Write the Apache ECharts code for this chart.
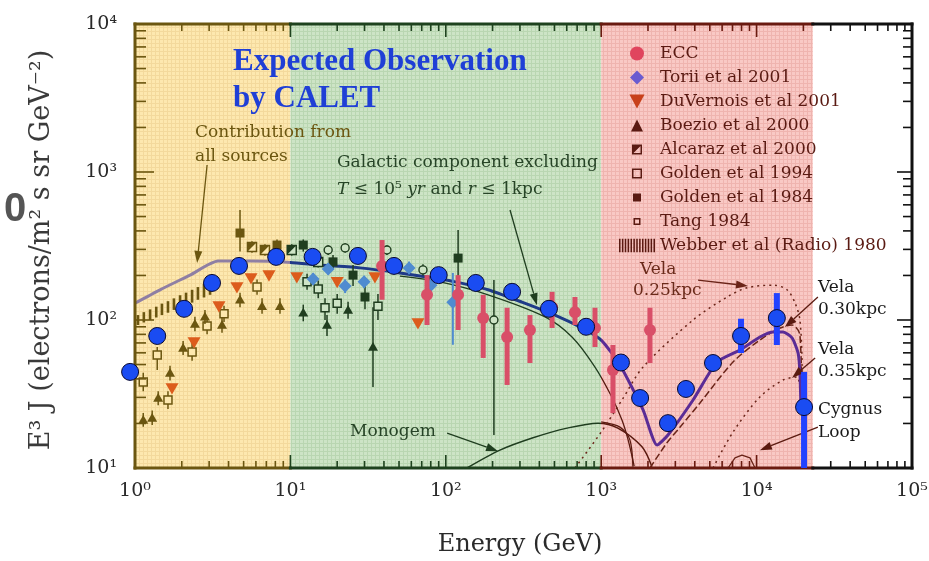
<!DOCTYPE html>
<html>
<head>
<meta charset="utf-8">
<title>Electron spectrum – expected observation by CALET</title>
<script src="https://cdn.jsdelivr.net/npm/echarts@6.0.0/dist/echarts.min.js"></script>
<style>
  html, body { margin: 0; padding: 0; background: #ffffff; }
  #chart { width: 929px; height: 561px; }
</style>
</head>
<body>
<div id="chart"></div>
<script>
// ---------- data: energy in GeV, flux as E^3 J (electrons m^-2 s^-1 sr^-1 GeV^2) ----------
const xTickExponents = ['⁰', '¹', '²', '³', '⁴', '⁵'];

// Expected CALET observation
const caletEnergy = [0.93, 1.39, 2.07, 3.13, 4.67, 8.1, 13.9, 27.2, 46.4, 90, 156, 267, 461, 800, 1340, 1780, 2690, 3510, 5240, 7940, 13500, 20200];
const caletFlux   = [44.6, 78, 119, 178, 232, 267, 267, 271, 232, 201, 178, 155, 119, 90, 51.6, 29.7, 20.1, 34.2, 51.2, 78, 103, 25.8];
const caletBarEnergy = [7940, 13500, 20200];
const caletBarLow    = [59.8, 67.8, 10];
const caletBarHigh   = [102, 152, 44.6];

// ECC
const eccEnergy = [38.9, 75.7, 120, 174, 248, 348, 483, 678, 912, 1190, 2060];
const eccFlux   = [232, 148, 148, 103, 76.8, 85.6, 122, 113, 88.3, 45.9, 85.6];
const eccLow    = [137, 92.5, 85.6, 55.4, 36.4, 51.2, 88.3, 92.5, 65.7, 23.5, 51.2];
const eccHigh   = [347, 201, 201, 148, 121, 108, 155, 143, 121, 67.8, 121];

// Torii et al 2001
const toriiEnergy = [14.0, 17.5, 22.5, 29.8, 58.0, 80.3, 111];
const toriiFlux   = [189, 221, 170, 181, 225, 172, 132];
const toriiLow    = [172, 202, 152, 164, 204, 154, 68];
const toriiHigh   = [208, 242, 188, 199, 248, 192, 208];

// DuVernois et al 2001
const duvernoisEnergy = [1.73, 2.40, 3.47, 4.53, 5.58, 7.28, 11.0, 20.0, 35.0, 66.2];
const duvernoisFlux   = [34.7, 71.0, 124, 167, 192, 201, 195, 181, 195, 95.4];

// Boezio et al 2000
const boezioEnergy = [1.13, 1.29, 1.41, 1.68, 2.04, 2.43, 2.82, 3.63, 4.74, 6.57, 8.57, 12.1, 17.2, 23.5, 34.0];
const boezioFlux   = [21.1, 21.8, 29.7, 43.8, 64.7, 94.0, 105, 92.5, 137, 124, 124, 112, 92.5, 117, 65.7];
const boezioLow    = [19, 19.5, 26.5, 39, 58, 84, 94, 82, 122, 110, 110, 98, 78, 102, 35.2];
const boezioHigh   = [23.5, 24.5, 33, 49, 72, 105, 117, 104, 153, 140, 140, 127, 108, 133, 122];

// Alcaraz et al 2000
const alcarazEnergy = [5.66, 6.86, 10.2, 15.1];
const alcarazFlux   = [311, 297, 297, 247];
const alcarazLow    = [285, 272, 272, 226];
const alcarazHigh   = [340, 325, 325, 270];

// Golden et al 1994
const golden94Energy = [1.13, 1.39, 1.63, 2.33, 2.91, 3.74, 6.10, 12.8, 15.1, 16.7, 20.0, 36.6];
const golden94Flux   = [38.1, 58.0, 28.8, 60.8, 91.1, 110, 167, 181, 162, 121, 130, 124];
const golden94Low    = [33, 45.9, 25, 53, 80, 97, 148, 160, 140, 100, 110, 100];
const golden94High   = [44, 65.7, 33, 70, 104, 125, 188, 205, 185, 140, 150, 150];

// Golden et al 1984
const golden84Energy = [4.74, 8.2, 12.1, 18.8, 25.3, 30.2, 120];
const golden84Flux   = [387, 321, 321, 247, 201, 143, 262];
const golden84Low    = [290, 290, 290, 220, 170, 118, 105];
const golden84High   = [553, 350, 350, 275, 235, 170, 406];

// Tang 1984
const tangEnergy = [17.5, 22.5, 41.8, 71.3, 204];
const tangFlux   = [297, 307, 297, 218, 100];
const tangLow    = [275, 285, 275, 200, 16.7];
const tangHigh   = [320, 330, 320, 238, 186];

// Webber et al (Radio) 1980
const webberEnergy = [1.045, 1.14, 1.25, 1.37, 1.49, 1.63, 1.78, 1.95, 2.13, 2.33, 2.54, 2.78, 3.04];
const webberLow    = [92.5, 96.2, 100, 104, 108, 112, 117, 122, 126, 131, 137, 142, 148];
const webberHigh   = [108, 113, 118, 123, 129, 134, 140, 147, 153, 160, 167, 175, 182];

// Model curves
const totalEnergy = [1, 1.45, 2.26, 3.42, 5.5, 10, 15.5, 28.0, 50.7, 91.8, 115, 187, 309, 504, 752, 1000, 1320, 1860, 2290, 2690, 3900, 5560, 7820, 10500, 12800, 14800, 16900, 18500, 19000, 19300];
const totalFlux   = [130, 160, 201, 250, 250, 245, 235, 225, 208, 189, 181, 160, 132, 108, 88.3, 73.2, 49.6, 24.7, 14.3, 16.7, 28.8, 52.0, 62.7, 76.8, 83.0, 83.0, 75.6, 59.8, 43.8, 25.0];
const galacticEnergy = [50.7, 91.8, 187, 435, 649, 912, 1170, 1360, 1490, 1630];
const galacticFlux   = [198, 181, 148, 105, 76.8, 48.1, 30.2, 21.1, 15.5, 10.3];
const monogemEnergy = [137, 223, 364, 603, 954, 1280, 1830, 2120];
const monogemFlux   = [10, 13.2, 16.0, 18.6, 20.1, 18.6, 13.9, 10.2];
const nearbyEnergy = [1000, 1320, 1530, 1600];
const nearbyFlux   = [20.5, 18.9, 15.5, 10.2];
const vela25Energy = [678, 1000, 1360, 1860, 3900, 6450, 8680, 12800, 15700, 17700, 19000, 19600, 19600];
const vela25Flux   = [10, 17.5, 28.8, 48.1, 100, 143, 165, 172, 160, 130, 100, 48.1, 21.1];
const vela30Energy = [2060, 2650, 3220, 4320, 7050, 10500, 14200, 16900, 19000, 19600];
const vela30Flux   = [10, 14.8, 18.9, 27.5, 52.0, 73.2, 88.3, 92.5, 79.2, 21.1];
const vela35Energy = [5240, 7050, 10500, 14800, 18200, 19000];
const vela35Flux   = [10, 17.5, 30.2, 39.3, 41.2, 33.7];
const cygnusEnergy = [6550, 7260, 8050, 9070, 9770];
const cygnusFlux   = [10, 11.7, 12.2, 11.7, 10];

// Annotation arrows: tail and head, each [energy, flux]
const arrowTails = [[2.91, 1115], [259, 554], [102, 17.2], [4200, 186], [24800, 143], [23800, 55.4], [24800, 18.9]];
const arrowHeads = [[2.51, 243], [386, 126], [217, 13.0], [8800, 170], [15200, 89.7], [16900, 40.6], [10500, 13.2]];

// Energy bands: yellow / green / red / white
const bandEdges = [1, 10, 1000, 23000, 100000];

// ---------- styling ----------
const SERIF = '"DejaVu Serif", "Liberation Serif", serif';
const paper = ['#fde8af', '#cde4c6', '#f9c9c5', '#ffffff'];
const paperGrid = ['#f3d99c', '#b9d6b1', '#efb4af', '#ffffff'];
const ink = ['#6b5610', '#1f3d1f', '#6a1c14', '#1a1a1a'];
const frameInk = ['#6b5610', '#1e421e', '#6a1a10', '#111111'];
const arrowInk = ['#6b5610', '#1f3d1f', '#1f3d1f', '#6a2418', '#5a1a10', '#5a1a10', '#5a1a10'];
const X_MIN = 1, X_MAX = 100000, Y_MIN = 10, Y_MAX = 10000;

function region(e) {
  let i = 0;
  while (i < 3 && e >= bandEdges[i + 1]) i++;
  return i;
}

function gridFill(i) {
  const c = document.createElement('canvas');
  c.width = 4; c.height = 4;
  const g = c.getContext('2d');
  g.fillStyle = paper[i]; g.fillRect(0, 0, 4, 4);
  g.fillStyle = paperGrid[i]; g.fillRect(0, 3, 4, 1); g.fillRect(3, 0, 1, 4);
  return { image: c, repeat: 'repeat' };
}
const bandPatterns = [0, 1, 2].map(gridFill);

function marker(kind, cx, cy, s, color, inside) {
  const h = s / 2;
  switch (kind) {
    case 'circle':
      return { type: 'circle', shape: { cx, cy, r: h }, style: { fill: color } };
    case 'diamond':
      return { type: 'polygon', shape: { points: [[cx, cy - h], [cx + h, cy], [cx, cy + h], [cx - h, cy]] }, style: { fill: color } };
    case 'triDown':
      return { type: 'polygon', shape: { points: [[cx - h, cy - h * 0.75], [cx + h, cy - h * 0.75], [cx, cy + h]] }, style: { fill: color } };
    case 'triUp':
      return { type: 'polygon', shape: { points: [[cx, cy - h], [cx + h, cy + h * 0.75], [cx - h, cy + h * 0.75]] }, style: { fill: color } };
    case 'square':
      return { type: 'rect', shape: { x: cx - h, y: cy - h, width: s, height: s }, style: { fill: color } };
    case 'openSquare':
      return { type: 'rect', shape: { x: cx - h, y: cy - h, width: s, height: s }, style: { fill: inside, stroke: color, lineWidth: 1.5 } };
    case 'halfSquare':
      return { type: 'group', children: [
        { type: 'rect', shape: { x: cx - h, y: cy - h, width: s, height: s }, style: { fill: inside, stroke: color, lineWidth: 1.5 } },
        { type: 'polygon', shape: { points: [[cx - h, cy - h], [cx + h, cy - h], [cx - h, cy + h]] }, style: { fill: color } }
      ] };
    default:
      return { type: 'circle', shape: { cx, cy, r: h }, style: { fill: inside, stroke: color, lineWidth: 1.4 } };
  }
}

// One measurement set: error bar plus marker per point
function pointSeries(cfg) {
  const data = cfg.E.map((e, i) => [e, cfg.F[i], cfg.lo ? cfg.lo[i] : cfg.F[i], cfg.hi ? cfg.hi[i] : cfg.F[i]]);
  return {
    type: 'custom', name: cfg.name, data, z: cfg.z || 5, silent: true,
    encode: { x: 0, y: 1 },
    itemStyle: { color: cfg.legendColor || ink[2] },
    renderItem(params, api) {
      const e = api.value(0), f = api.value(1), lo = api.value(2), hi = api.value(3);
      const r = region(e);
      const color = cfg.color || ink[r];
      const p = api.coord([e, f]);
      const children = [];
      if (lo !== hi) {
        const a = api.coord([e, lo]), b = api.coord([e, hi]);
        children.push({ type: 'line', shape: { x1: a[0], y1: a[1], x2: b[0], y2: b[1] }, style: { stroke: cfg.barColor || color, lineWidth: cfg.barWidth || 1.5 } });
      }
      children.push(marker(cfg.kind, p[0], p[1], cfg.size, color, paper[r]));
      return { type: 'group', children };
    }
  };
}

function curve(name, E, F, lineStyle, extra) {
  return Object.assign({
    type: 'line', name, data: E.map((e, i) => [e, F[i]]),
    showSymbol: false, symbol: 'none', smooth: 0.3, z: 3, silent: true,
    lineStyle
  }, extra || {});
}

// Legend icons (drawn with kept aspect inside the legend icon box)
const ICON = {
  circle: 'path://M0,7A7,7,0,1,0,14,7A7,7,0,1,0,0,7Z',
  diamond: 'path://M7,0L14,7L7,14L0,7Z',
  triDown: 'path://M0,1L14,1L7,14Z',
  triUp: 'path://M0,0 M14,14 M7,1L13,13L1,13Z',
  halfSquare: 'path://M0,0 M14,14 M2,2h10v10h-10z M3.5,3.5v7h7v-7z M2,2L12,2L2,12Z',
  openSquare: 'path://M0,0 M14,14 M2,2h10v10h-10z M3.5,3.5v7h7v-7z',
  square: 'path://M0,0 M14,14 M3,3h8v8h-8z',
  openSmall: 'path://M0,0 M14,14 M3.5,3.5h7v7h-7z M5,5v4h4v-4z',
  hatch: 'path://' + webberEnergy.map((_, i) => 'M' + (i * 3) + ',0h1.6v14h-1.6z').join(' ')
};

// Frame segments coloured by band: [e0, f0, e1, f1, band]
const frameSegments = [];
for (let i = 0; i < 4; i++) {
  frameSegments.push([bandEdges[i], Y_MIN, bandEdges[i + 1], Y_MIN, i]);
  frameSegments.push([bandEdges[i], Y_MAX, bandEdges[i + 1], Y_MAX, i]);
}
frameSegments.push([X_MIN, Y_MIN, X_MIN, Y_MAX, 0]);
frameSegments.push([X_MAX, Y_MIN, X_MAX, Y_MAX, 3]);

// Tick positions at 1..9 x 10^k (flag 2 = decade)
const xTicks = [], yTicks = [];
for (let d = 0; d < 5; d++) for (let m = 1; m < 10; m++) if (d + m > 1) xTicks.push([m * Math.pow(10, d), m === 1 ? 2 : 1]);
for (let d = 1; d < 4; d++) for (let m = 1; m < 10; m++) if (d + m > 2) yTicks.push([m * Math.pow(10, d), m === 1 ? 2 : 1]);

const seriesList = [
  // coloured energy bands
  {
    type: 'custom', name: 'bands', z: 1, silent: true,
    data: [[bandEdges[0], bandEdges[1], 0], [bandEdges[1], bandEdges[2], 1], [bandEdges[2], bandEdges[3], 2]],
    encode: { x: [0, 1] },
    renderItem(params, api) {
      const a = api.coord([api.value(0), Y_MAX]), b = api.coord([api.value(1), Y_MIN]);
      return { type: 'rect', shape: { x: a[0], y: a[1], width: b[0] - a[0], height: b[1] - a[1] }, style: { fill: bandPatterns[api.value(2)] } };
    }
  },
  curve('All sources', totalEnergy, totalFlux, { width: 3 }, { z: 4, smooth: 0.2 }),
  curve('Galactic', galacticEnergy, galacticFlux, { width: 1.3 }),
  curve('Monogem', monogemEnergy, monogemFlux, { width: 1.5 }),
  curve('Nearby', nearbyEnergy, nearbyFlux, { width: 1.3 }),
  curve('Vela 0.25kpc', vela25Energy, vela25Flux, { width: 1.5, color: '#6a2418', type: [2, 4] }),
  curve('Vela 0.30kpc', vela30Energy, vela30Flux, { width: 1.5, color: '#6a2418', type: [7, 3] }),
  curve('Vela 0.35kpc', vela35Energy, vela35Flux, { width: 1.5, color: '#6a2418', type: [2, 4] }),
  curve('Cygnus Loop', cygnusEnergy, cygnusFlux, { width: 1.3, color: '#6a2418' }, { smooth: false }),
  // annotation arrows
  {
    type: 'custom', name: 'arrows', z: 6, silent: true,
    data: arrowTails.map((t, i) => [t[0], t[1], arrowHeads[i][0], arrowHeads[i][1], i]),
    encode: { x: [0, 2], y: [1, 3] },
    renderItem(params, api) {
      const a = api.coord([api.value(0), api.value(1)]), b = api.coord([api.value(2), api.value(3)]);
      const c = arrowInk[api.value(4)];
      const ang = Math.atan2(b[1] - a[1], b[0] - a[0]);
      const L = 12, W = 4;
      const bx = b[0] - L * Math.cos(ang), by = b[1] - L * Math.sin(ang);
      return { type: 'group', children: [
        { type: 'line', shape: { x1: a[0], y1: a[1], x2: bx, y2: by }, style: { stroke: c, lineWidth: 1.3 } },
        { type: 'polygon', shape: { points: [b, [bx - W * Math.sin(ang), by + W * Math.cos(ang)], [bx + W * Math.sin(ang), by - W * Math.cos(ang)]] }, style: { fill: c } }
      ] };
    }
  },
  // Webber radio band (hatched)
  {
    type: 'custom', name: 'Webber et al (Radio) 1980', z: 5, silent: true,
    itemStyle: { color: '#5a1a12' },
    data: webberEnergy.map((e, i) => [e, webberLow[i], webberHigh[i]]),
    encode: { x: 0, y: [1, 2] },
    renderItem(params, api) {
      const a = api.coord([api.value(0), api.value(1)]), b = api.coord([api.value(0), api.value(2)]);
      return { type: 'line', shape: { x1: a[0], y1: a[1], x2: b[0], y2: b[1] }, style: { stroke: ink[0], lineWidth: 2.6 } };
    }
  },
  pointSeries({ name: 'Golden et al 1994', E: golden94Energy, F: golden94Flux, lo: golden94Low, hi: golden94High, kind: 'openSquare', size: 8 }),
  pointSeries({ name: 'Golden et al 1984', E: golden84Energy, F: golden84Flux, lo: golden84Low, hi: golden84High, kind: 'square', size: 9 }),
  pointSeries({ name: 'Alcaraz et al 2000', E: alcarazEnergy, F: alcarazFlux, lo: alcarazLow, hi: alcarazHigh, kind: 'halfSquare', size: 9 }),
  pointSeries({ name: 'Tang 1984', E: tangEnergy, F: tangFlux, lo: tangLow, hi: tangHigh, kind: 'openCircle', size: 8 }),
  pointSeries({ name: 'Boezio et al 2000', E: boezioEnergy, F: boezioFlux, lo: boezioLow, hi: boezioHigh, kind: 'triUp', size: 10 }),
  pointSeries({ name: 'DuVernois et al 2001', E: duvernoisEnergy, F: duvernoisFlux, kind: 'triDown', size: 13, color: '#dc5c1c', legendColor: '#c8401a' }),
  pointSeries({ name: 'Torii et al 2001', E: toriiEnergy, F: toriiFlux, lo: toriiLow, hi: toriiHigh, kind: 'diamond', size: 13, color: '#4f8bd0', barWidth: 2, legendColor: '#6a5bd0' }),
  pointSeries({ name: 'ECC', E: eccEnergy, F: eccFlux, lo: eccLow, hi: eccHigh, kind: 'circle', size: 12, color: '#d94f68', barWidth: 5, legendColor: '#e0455e' }),
  // frame
  {
    type: 'custom', name: 'frame', z: 7, silent: true, data: frameSegments,
    encode: { x: [0, 2], y: [1, 3] },
    renderItem(params, api) {
      const a = api.coord([api.value(0), api.value(1)]), b = api.coord([api.value(2), api.value(3)]);
      return { type: 'line', shape: { x1: a[0], y1: a[1], x2: b[0], y2: b[1] }, style: { stroke: frameInk[api.value(4)], lineWidth: 3, lineCap: 'square' } };
    }
  },
  {
    type: 'custom', name: 'xticks', z: 7, silent: true, data: xTicks, encode: { x: 0 },
    renderItem(params, api) {
      const v = api.value(0), len = api.value(1) === 2 ? 13 : 7;
      const c = frameInk[region(v)];
      const b = api.coord([v, Y_MIN]), t = api.coord([v, Y_MAX]);
      return { type: 'group', children: [
        { type: 'line', shape: { x1: b[0], y1: b[1], x2: b[0], y2: b[1] - len }, style: { stroke: c, lineWidth: 1.6 } },
        { type: 'line', shape: { x1: t[0], y1: t[1], x2: t[0], y2: t[1] + len }, style: { stroke: c, lineWidth: 1.6 } }
      ] };
    }
  },
  {
    type: 'custom', name: 'yticks', z: 7, silent: true, data: yTicks, encode: { y: 0 },
    renderItem(params, api) {
      const v = api.value(0), major = api.value(1) === 2;
      const l = api.coord([X_MIN, v]), r = api.coord([X_MAX, v]);
      return { type: 'group', children: [
        { type: 'line', shape: { x1: l[0], y1: l[1], x2: l[0] + (major ? 19 : 11), y2: l[1] }, style: { stroke: frameInk[0], lineWidth: 1.6 } },
        { type: 'line', shape: { x1: r[0], y1: r[1], x2: r[0] - (major ? 15 : 9), y2: r[1] }, style: { stroke: frameInk[3], lineWidth: 1.6 } }
      ] };
    }
  },
  // CALET expected error bars and points
  {
    type: 'custom', name: 'CALET bars', z: 8, silent: true,
    data: caletBarEnergy.map((e, i) => [e, caletBarLow[i], caletBarHigh[i]]),
    encode: { x: 0, y: [1, 2] },
    renderItem(params, api) {
      const a = api.coord([api.value(0), api.value(1)]), b = api.coord([api.value(0), api.value(2)]);
      return { type: 'line', shape: { x1: a[0], y1: a[1], x2: b[0], y2: b[1] }, style: { stroke: '#2242ff', lineWidth: 6 } };
    }
  },
  {
    type: 'scatter', name: 'CALET', z: 9, silent: true, clip: false,
    data: caletEnergy.map((e, i) => [e, caletFlux[i]]),
    symbol: 'circle', symbolSize: 17,
    itemStyle: { color: '#1a4cf2', borderColor: '#0a0a30', borderWidth: 1, opacity: 1 }
  }
];

const idx = name => seriesList.findIndex(s => s.name === name);

const legendNames = ['ECC', 'Torii et al 2001', 'DuVernois et al 2001', 'Boezio et al 2000', 'Alcaraz et al 2000', 'Golden et al 1994', 'Golden et al 1984', 'Tang 1984', 'Webber et al (Radio) 1980'];
const legendIcons = [ICON.circle, ICON.diamond, ICON.triDown, ICON.triUp, ICON.halfSquare, ICON.openSquare, ICON.square, ICON.openSmall, ICON.hatch];
const legendColors = ['#e0455e', '#6a5bd0', '#c8401a', '#5a1a12', '#5a1a12', '#5a1a12', '#5a1a12', '#5a1a12', '#5a1a12'];

function annot(text, x, y, fill, size) {
  return { type: 'text', x, y, z: 20, silent: true, style: { text, fill, font: (size || 17) + 'px ' + SERIF, verticalAlign: 'middle' } };
}

const option = {
  animation: false,
  backgroundColor: '#ffffff',
  grid: { left: 135, right: 17, top: 24, bottom: 93, containLabel: false, outerBoundsMode: 'none' },
  xAxis: {
    type: 'log', logBase: 10, min: X_MIN, max: X_MAX,
    axisLine: { show: false }, axisTick: { show: false }, splitLine: { show: false },
    axisLabel: {
      margin: 14, color: '#2a2a2a', fontFamily: SERIF, fontSize: 19,
      formatter: v => '10' + xTickExponents[Math.round(Math.log10(v))]
    }
  },
  yAxis: {
    type: 'log', logBase: 10, min: Y_MIN, max: Y_MAX, splitNumber: 3,
    axisLine: { show: false }, axisTick: { show: false }, splitLine: { show: false },
    axisLabel: {
      margin: 18, color: '#2a2a2a', fontFamily: SERIF, fontSize: 19,
      formatter: v => '10' + xTickExponents[Math.round(Math.log10(v))]
    }
  },
  visualMap: [
    { type: 'piecewise', show: false, dimension: 0, seriesIndex: [idx('All sources')],
      pieces: [{ lt: 10, color: '#8f7fa3' }, { gte: 10, lt: 1000, color: '#1f3a88' }, { gte: 1000, color: '#5b2c96' }] },
    { type: 'piecewise', show: false, dimension: 0, seriesIndex: [idx('Galactic'), idx('Monogem'), idx('Nearby')],
      pieces: [{ lt: 10, color: ink[0] }, { gte: 10, lt: 1000, color: ink[1] }, { gte: 1000, color: '#5a1a10' }] }
  ],
  legend: {
    orient: 'vertical', left: 614, top: 40, itemWidth: 36, itemHeight: 14, itemGap: 7,
    selectedMode: false, symbolKeepAspect: true, z: 6,
    textStyle: { fontFamily: SERIF, fontSize: 17, color: '#5a1a12' },
    data: legendNames.map((n, i) => ({ name: n, icon: legendIcons[i], itemStyle: { color: legendColors[i], borderWidth: 0 } }))
  },
  graphic: [
    { type: 'text', x: 233, y: 43, z: 20, silent: true,
      style: { text: 'Expected Observation\nby CALET', fill: '#1f3fd6', font: 'bold 31px "Liberation Serif", serif', lineHeight: 37 } },
    { type: 'text', x: 4, y: 210, z: 20, silent: true,
      style: { text: '0', fill: '#555555', font: 'bold 40px "Liberation Sans", sans-serif', verticalAlign: 'middle' } },
    { type: 'text', x: 42, y: 250, rotation: Math.PI / 2, z: 20, silent: true,
      style: { text: 'E³ J (electrons/m² s sr GeV⁻²)', fill: '#3a3a3a', font: '27px ' + SERIF, align: 'center', verticalAlign: 'middle' } },
    { type: 'text', x: 520, y: 545, z: 20, silent: true,
      style: { text: 'Energy (GeV)', fill: '#2a2a2a', font: '24px ' + SERIF, align: 'center', verticalAlign: 'middle' } },
    annot('Contribution from', 195, 133, ink[0]),
    annot('all sources', 195, 157, ink[0]),
    annot('Galactic component excluding', 337, 163, '#274427'),
    { type: 'text', x: 337, y: 190, z: 20, silent: true,
      style: { text: '{i|T} ≤ 10⁵ {i|yr} and {i|r} ≤ 1kpc', fill: '#274427', font: '17px ' + SERIF, verticalAlign: 'middle',
        rich: { i: { fontStyle: 'italic', fontFamily: '"DejaVu Serif", serif', fontSize: 17, fill: '#274427' } } } },
    annot('Monogem', 350, 432, '#274427'),
    annot('Vela', 640, 270, '#6a2a1a'),
    annot('0.25kpc', 633, 291, '#6a2a1a'),
    annot('Vela', 818, 288, '#1a1a1a'),
    annot('0.30kpc', 818, 310, '#1a1a1a'),
    annot('Vela', 818, 350, '#1a1a1a'),
    annot('0.35kpc', 818, 372, '#1a1a1a'),
    annot('Cygnus', 818, 410, '#1a1a1a'),
    annot('Loop', 818, 433, '#1a1a1a')
  ],
  series: seriesList
};

const chart = echarts.init(document.getElementById('chart'), null, { renderer: 'canvas' });
chart.setOption(option);
</script>
</body>
</html>
